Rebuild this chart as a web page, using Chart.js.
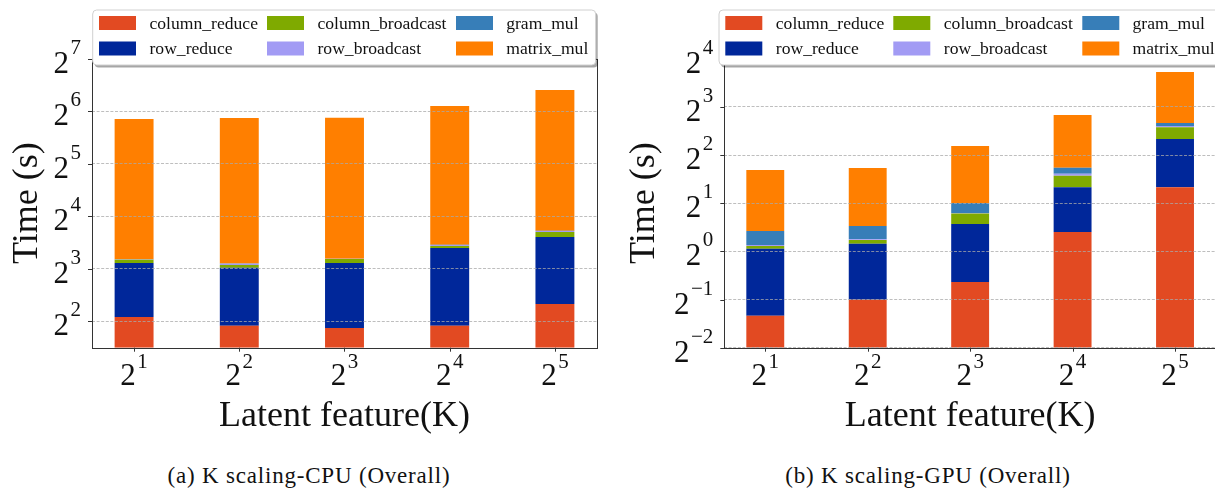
<!DOCTYPE html>
<html>
<head>
<meta charset="utf-8">
<script src="https://cdn.jsdelivr.net/npm/chart.js@4.4.1/dist/chart.umd.min.js"></script>
<style>
  html, body { margin: 0; padding: 0; background: #fff; overflow: hidden; width: 1215px; height: 491px; }
  .box { position: absolute; top: 0; height: 450px; }
  #cpuBox { left: 0; width: 610px; }
  #gpuBox { left: 610px; width: 620px; }
  .caption { position: absolute; top: 463px; font-family: "Liberation Serif", serif; font-size: 23px; letter-spacing: 0.8px; color: #111; transform: translateX(-50%); white-space: nowrap; }
</style>
</head>
<body>
<div class="box" id="cpuBox"><canvas id="cpu"></canvas></div>
<div class="box" id="gpuBox"><canvas id="gpu"></canvas></div>
<div class="caption" style="left:309px">(a) K scaling-CPU (Overall)</div>
<div class="caption" style="left:928px">(b) K scaling-GPU (Overall)</div>
<script>
// x categories: K = 2^1 .. 2^5
const kExps = [1, 2, 3, 4, 5];
const seriesNames = ["column_reduce", "row_reduce", "column_broadcast", "row_broadcast", "gram_mul", "matrix_mul"];
const seriesColors = ["#e24a22", "#00279a", "#7faa00", "#a29bf4", "#377eb8", "#ff7f00"];

// CPU times (s), stacked from bottom
const cpuColumnReduce = [4.24, 3.78, 3.67, 3.78, 5.04];
const cpuRowReduce = [4.41, 4.35, 4.98, 6.76, 7.14];
const cpuColumnBroadcast = [0.38, 0.29, 0.46, 0.29, 0.84];
const cpuRowBroadcast = [0.02, 0.15, 0.02, 0.14, 0.17];
const cpuGramMul = [0.02, 0.02, 0.02, 0.02, 0.02];
const cpuMatrixMul = [48.8, 50.0, 49.5, 57.6, 71.5];

// GPU times (s)
const gpuColumnReduce = [0.396, 0.499, 0.643, 1.32, 2.52];
const gpuRowReduce = [0.644, 0.618, 0.84, 1.20, 2.52];
const gpuColumnBroadcast = [0.041, 0.06, 0.244, 0.45, 0.92];
const gpuRowBroadcast = [0.015, 0.013, 0.01, 0.09, 0.11];
const gpuGramMul = [0.245, 0.25, 0.269, 0.27, 0.27];
const gpuMatrixMul = [1.88, 1.88, 2.55, 3.79, 6.86];

// y tick exponents and axis limits (log2)
const cpuYExps = [2, 3, 4, 5, 6, 7];
const cpuYRange = [1.5, 7];
const gpuYExps = [-2, -1, 0, 1, 2, 3, 4];
const gpuYRange = [-2, 4];

const serif = '"Liberation Serif", "Times New Roman", serif';

function drawPow(ctx, exp, x, y, align, raise) {
    // "2" with a superscript exponent; x is the right edge or the centre
    const sup = exp < 0 ? "\u2212" + (-exp) : String(exp);
    ctx.font = "31px " + serif;
    const w2 = ctx.measureText("2").width;
    ctx.font = "21px " + serif;
    const ws = ctx.measureText(sup).width;
    const total = w2 + 1.5 + ws;
    const left = align === "right" ? x - total : x - total / 2;
    ctx.textAlign = "left";
    ctx.textBaseline = "alphabetic";
    ctx.fillStyle = "#111";
    ctx.font = "31px " + serif;
    ctx.fillText("2", left, y);
    ctx.font = "21px " + serif;
    ctx.fillText(sup, left + w2 + 1.5, y - raise);
}

function legendPlugin(boxLeft) {
    return {
        id: "mplLegend",
        afterDraw(chart) {
            const ctx = chart.ctx;
            const top = 10, w = 503, h = 55;
            ctx.save();
            ctx.fillStyle = "rgba(0,0,0,0.35)";
            ctx.beginPath();
            ctx.roundRect(boxLeft + 2, top + 2.5, w, h, 4);
            ctx.fill();
            ctx.fillStyle = "#fff";
            ctx.strokeStyle = "#d0d0d0";
            ctx.lineWidth = 1;
            ctx.beginPath();
            ctx.roundRect(boxLeft, top, w, h, 4);
            ctx.fill();
            ctx.stroke();
            const colSw = [6.3, 174.3, 363.3];
            const colTx = [56.8, 224.8, 413.5];
            const rowY = [23, 48.5];
            ctx.font = "17.6px " + serif;
            ctx.textBaseline = "middle";
            ctx.textAlign = "left";
            chart.data.datasets.forEach((ds, i) => {
                const c = Math.floor(i / 2), r = i % 2;
                ctx.fillStyle = ds.backgroundColor;
                ctx.fillRect(boxLeft + colSw[c], rowY[r] - 7, 37, 14);
                ctx.fillStyle = "#111";
                ctx.fillText(ds.label, boxLeft + colTx[c], rowY[r] + 1);
            });
            ctx.restore();
        }
    };
}

const labelPlugin = {
    id: "powLabels",
    afterDraw(chart) {
        const ctx = chart.ctx;
        const area = chart.chartArea;
        const xs = chart.scales.x, ys = chart.scales.y;
        const opts = chart.options.plugins.powLabels;
        ctx.save();
        // frame and tick marks
        ctx.strokeStyle = "#333";
        ctx.lineWidth = 1;
        ctx.strokeRect(Math.round(area.left) + 0.5, Math.round(area.top) + 0.5,
            Math.round(area.right - area.left), Math.round(area.bottom - area.top));
        ctx.beginPath();
        opts.yExps.forEach(e => {
            const y = Math.round(ys.getPixelForValue(Math.pow(2, e))) + 0.5;
            ctx.moveTo(area.left - 4, y);
            ctx.lineTo(area.left, y);
        });
        kExps.forEach((e, i) => {
            const x = Math.round(xs.getPixelForValue(i)) + 0.5;
            ctx.moveTo(x, area.bottom);
            ctx.lineTo(x, area.bottom + 4);
        });
        ctx.stroke();
        opts.yExps.forEach(e => {
            const y = ys.getPixelForValue(Math.pow(2, e));
            drawPow(ctx, e, area.left - 11, y + 14, "right", 19);
        });
        kExps.forEach((e, i) => {
            drawPow(ctx, e, xs.getPixelForValue(i), area.bottom + 37, "center", 17);
        });
        ctx.fillStyle = "#111";
        ctx.font = "36px " + serif;
        ctx.textAlign = "center";
        ctx.textBaseline = "alphabetic";
        ctx.fillText("Latent feature(K)", (area.left + area.right) / 2, 426);
        ctx.translate(opts.titleX, (area.top + area.bottom) / 2);
        ctx.rotate(-Math.PI / 2);
        ctx.textBaseline = "middle";
        ctx.fillText("Time (s)", 0, 0);
        ctx.restore();
    }
};

function makeChart(id, series, yExps, yRange, padding, titleX, legendLeft) {
    return new Chart(document.getElementById(id), {
        type: "bar",
        data: {
            datasets: series.map((vals, i) => ({
                label: seriesNames[i],
                data: vals.map((v, j) => ({ x: j, y: v })),
                backgroundColor: seriesColors[i],
                borderWidth: 0,
                categoryPercentage: 1,
                barPercentage: 0.37
            }))
        },
        options: {
            responsive: true,
            maintainAspectRatio: false,
            animation: false,
            layout: { padding: padding },
            plugins: {
                legend: { display: false },
                tooltip: { enabled: false },
                powLabels: { yExps: yExps, titleX: titleX }
            },
            scales: {
                x: {
                    type: "linear",
                    stacked: true,
                    offset: false,
                    min: -0.4,
                    max: 4.4,
                    afterBuildTicks: s => { s.ticks = kExps.map((e, i) => ({ value: i })); },
                    ticks: { display: false },
                    grid: { display: false, drawTicks: false, offset: false },
                    border: { display: false }
                },
                y: {
                    type: "logarithmic",
                    stacked: true,
                    min: Math.pow(2, yRange[0]),
                    max: Math.pow(2, yRange[1]),
                    afterBuildTicks: s => { s.ticks = yExps.map(e => ({ value: Math.pow(2, e) })); },
                    ticks: { display: false },
                    grid: { color: "rgba(170,170,170,0.85)", lineWidth: 0.9, drawTicks: false, z: 1 },
                    border: { display: false, dash: [3, 1.6] }
                }
            }
        },
        plugins: [labelPlugin, legendPlugin(legendLeft)]
    });
}

makeChart("cpu",
    [cpuColumnReduce, cpuRowReduce, cpuColumnBroadcast, cpuRowBroadcast, cpuGramMul, cpuMatrixMul],
    cpuYExps, cpuYRange,
    { left: 92, right: 13, top: 58.7, bottom: 102.3 }, 28, 92.7);

makeChart("gpu",
    [gpuColumnReduce, gpuRowReduce, gpuColumnBroadcast, gpuRowBroadcast, gpuGramMul, gpuMatrixMul],
    gpuYExps, gpuYRange,
    { left: 114.3, right: 14, top: 58.7, bottom: 102.3 }, 35, 109);
</script>
</body>
</html>
